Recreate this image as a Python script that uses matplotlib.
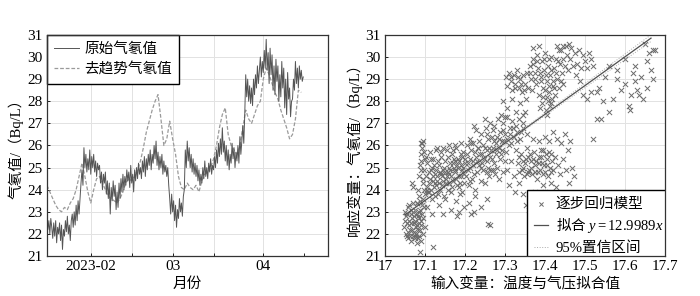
import numpy as np
import pandas as pd
import matplotlib
matplotlib.use('Agg')
import matplotlib.pyplot as plt
import matplotlib.dates as mdates
from matplotlib.ticker import FuncFormatter, MultipleLocator

plt.rcParams['font.family'] = ['Liberation Serif', 'Noto Sans CJK SC']
plt.rcParams['mathtext.fontset'] = 'custom'
plt.rcParams['mathtext.rm'] = 'Noto Sans CJK SC'
plt.rcParams['mathtext.it'] = 'Liberation Serif:italic'
plt.rcParams['mathtext.sf'] = 'Liberation Serif'
plt.rcParams['axes.unicode_minus'] = False

# raw radon, three readings per day from 2023-01-17
t_start = '2023-01-17'
radon_raw = [
    22.9, 22.2, 22.6, 22.0, 22.7, 22.3, 21.8, 22.5, 21.9, 22.6, 21.6, 22.3,
    22.0, 22.5, 21.7, 22.4, 21.3, 22.2, 21.9, 22.6, 22.1, 22.8, 22.0, 22.4,
    21.7, 22.6, 22.9, 22.3, 23.0, 22.4, 23.3, 22.6, 23.5, 22.9, 23.6, 24.3,
    24.9, 24.2, 25.9, 25.0, 25.6, 24.8, 25.4, 24.9, 25.8, 24.7, 25.5, 25.0,
    25.6, 24.8, 25.3, 24.6, 25.2, 24.9, 25.1, 24.3, 24.8, 24.0, 24.7, 24.3,
    24.8, 23.8, 24.4, 23.6, 24.3, 22.9, 24.1, 23.5, 24.4, 23.7, 24.2, 23.1,
    23.9, 23.2, 24.3, 23.6, 24.5, 23.9, 24.7, 24.0, 24.6, 24.2, 24.9, 24.4,
    24.8, 24.1, 25.1, 24.3, 24.7, 23.9, 24.9, 24.4, 25.0, 24.5, 25.2, 24.7,
    25.0, 24.5, 25.3, 24.8, 25.5, 24.6, 25.4, 24.9, 25.6, 25.1, 25.8, 24.9,
    25.6, 25.2, 26.0, 25.4, 26.2, 25.1, 25.7, 24.9, 25.5, 25.0, 25.6, 24.7,
    25.3, 24.8, 25.1, 24.6, 25.0, 24.2, 23.6, 22.9, 23.8, 23.0, 23.5, 22.6,
    23.3, 22.3, 23.1, 22.7, 23.6, 23.0, 23.4, 22.8, 23.7, 24.0, 25.8, 25.0,
    26.2, 25.3, 25.9, 25.0, 25.6, 24.8, 25.4, 24.7, 25.2, 24.6, 25.1, 24.4,
    24.9, 24.2, 24.7, 24.3, 25.0, 24.5, 25.3, 24.6, 25.0, 24.5, 25.2, 24.8,
    25.4, 24.7, 25.1, 24.9, 25.5, 25.0, 25.8, 25.2, 26.1, 25.5, 26.3, 25.6,
    26.8, 25.7, 26.2, 25.3, 26.0, 25.1, 25.8, 24.9, 25.6, 25.2, 26.1, 25.4,
    25.9, 25.0, 25.7, 25.3, 26.0, 25.2, 26.4, 25.6, 26.2, 26.9, 26.1, 27.4,
    29.2, 28.2, 29.0, 28.0, 28.7, 27.9, 28.6, 27.8, 29.0, 28.3, 29.2, 28.6,
    29.6, 28.8, 29.4, 30.0, 29.1, 29.8, 29.3, 30.3, 29.5, 30.8, 29.4, 30.2,
    28.8, 30.4, 29.2, 30.1, 28.5, 29.6, 28.3, 29.9, 28.9, 29.6, 28.0, 29.2,
    28.2, 29.8, 28.6, 29.5, 27.7, 29.0, 27.4, 29.3, 28.1, 28.6, 27.3, 28.0,
    28.1, 29.0, 28.5, 29.8, 28.8, 29.5, 28.6, 29.6, 29.0, 29.4, 28.9, 29.1,
]
# detrended radon, daily
radon_detrend = [
    24.2, 23.9, 23.6, 23.3, 23.1, 23.0, 23.2, 23.1, 23.4, 23.6,
    24.0, 24.6, 25.2, 24.6, 23.9, 23.4, 24.0, 24.5, 24.6, 24.3,
    24.0, 23.7, 23.6, 23.5, 23.4, 23.6, 23.9, 24.3, 24.5, 24.4,
    24.6, 24.9, 25.3, 25.9, 26.6, 27.1, 27.6, 28.0, 28.3, 27.2,
    26.0, 26.3, 27.1, 26.3, 25.6, 24.6, 24.1, 24.0, 24.3, 24.1,
    24.0, 24.2, 23.9, 24.4, 24.7, 24.8, 25.0, 25.4, 26.0, 26.8,
    27.4, 27.7, 26.5, 26.0, 25.8, 25.6, 26.0, 26.8, 27.6, 27.2,
    27.0, 27.4, 27.8, 28.0, 29.0, 29.5, 29.2, 28.8, 28.4, 28.1,
    27.6, 27.2, 26.8, 26.3, 26.5, 27.2, 28.5, 28.4,
]
month_labels = {2: '2023-02', 3: '03', 4: '04'}

# stepwise regression: (fitted input, radon)
scatter_xy = [
    (17.048, 22.3), (17.052, 22.8), (17.055, 22.5), (17.050, 23.0), (17.058, 22.1),
    (17.061, 22.6), (17.064, 22.9), (17.060, 23.3), (17.067, 22.2), (17.070, 21.9),
    (17.072, 22.5), (17.068, 22.7), (17.075, 23.1), (17.078, 22.0), (17.074, 21.8),
    (17.081, 22.4), (17.083, 22.8), (17.079, 23.4), (17.086, 21.9), (17.088, 22.2),
    (17.084, 23.0), (17.090, 22.6), (17.092, 23.3), (17.089, 21.7), (17.094, 22.0),
    (17.057, 23.2), (17.063, 21.9), (17.071, 23.4), (17.077, 22.3), (17.085, 22.5),
    (17.053, 22.0), (17.066, 23.1), (17.080, 21.6), (17.093, 22.9), (17.096, 23.6),
    (17.059, 22.4), (17.073, 22.8), (17.087, 23.5), (17.088, 21.2), (17.120, 21.4),
    (17.051, 22.6), (17.054, 21.9), (17.056, 22.9), (17.062, 22.2), (17.065, 22.5),
    (17.069, 23.0), (17.072, 22.1), (17.076, 22.6), (17.079, 22.9), (17.082, 22.2),
    (17.085, 22.7), (17.088, 23.1), (17.091, 22.4), (17.094, 22.7), (17.097, 23.2),
    (17.058, 21.8), (17.066, 21.7), (17.076, 21.9), (17.083, 21.8), (17.099, 22.3),
    (17.082, 24.0), (17.085, 24.6), (17.088, 25.1), (17.090, 25.6), (17.093, 26.1),
    (17.086, 23.7), (17.095, 24.3), (17.097, 24.9), (17.099, 25.4), (17.092, 25.9),
    (17.068, 24.3), (17.071, 24.1), (17.080, 23.4), (17.096, 26.2), (17.100, 23.8),
    (17.102, 24.6), (17.105, 25.2), (17.108, 23.9), (17.110, 24.3), (17.112, 25.7),
    (17.115, 24.9), (17.117, 23.6), (17.120, 25.4), (17.122, 24.1), (17.125, 24.7),
    (17.127, 25.8), (17.130, 24.4), (17.132, 23.8), (17.135, 25.1), (17.137, 24.8),
    (17.140, 25.5), (17.142, 24.2), (17.145, 24.9), (17.147, 23.7), (17.150, 25.3),
    (17.152, 24.5), (17.155, 25.8), (17.157, 24.0), (17.160, 24.7), (17.162, 25.2),
    (17.165, 23.9), (17.167, 25.6), (17.170, 24.4), (17.172, 25.0), (17.175, 24.8),
    (17.177, 25.9), (17.180, 24.2), (17.182, 25.4), (17.185, 24.6), (17.187, 23.8),
    (17.190, 25.1), (17.192, 24.9), (17.195, 25.7), (17.197, 24.3), (17.200, 25.2),
    (17.106, 24.0), (17.113, 24.5), (17.118, 25.0), (17.124, 23.7), (17.133, 25.3),
    (17.138, 24.0), (17.144, 25.9), (17.153, 24.3), (17.158, 25.5), (17.163, 24.9),
    (17.168, 24.1), (17.173, 25.4), (17.178, 24.5), (17.183, 25.0), (17.188, 24.3),
    (17.193, 25.5), (17.198, 24.7), (17.103, 25.5), (17.128, 24.9), (17.148, 25.0),
    (17.104, 24.1), (17.109, 24.8), (17.114, 24.0), (17.119, 24.4), (17.123, 25.1),
    (17.126, 24.3), (17.131, 24.6), (17.136, 24.3), (17.141, 24.7), (17.146, 24.4),
    (17.151, 24.8), (17.156, 24.6), (17.161, 25.0), (17.166, 24.6), (17.171, 25.2),
    (17.176, 24.9), (17.181, 25.1), (17.186, 25.3), (17.191, 24.6), (17.196, 25.0),
    (17.201, 25.4), (17.207, 24.9), (17.213, 25.4), (17.219, 25.1), (17.225, 25.7),
    (17.231, 25.3), (17.237, 25.6), (17.243, 25.2), (17.249, 25.9), (17.255, 25.3),
    (17.261, 25.9), (17.267, 25.4), (17.273, 26.2), (17.279, 25.8), (17.285, 26.3),
    (17.291, 25.6), (17.297, 26.2), (17.111, 23.9), (17.127, 24.2), (17.143, 24.6),
    (17.159, 24.3), (17.175, 25.3), (17.191, 25.6), (17.207, 25.2), (17.223, 24.7),
    (17.239, 25.0), (17.255, 24.8), (17.271, 24.9), (17.098, 24.0), (17.094, 24.5),
    (17.091, 24.9), (17.089, 25.3), (17.097, 25.7), (17.115, 25.4), (17.139, 25.7),
    (17.169, 25.8), (17.121, 24.6), (17.157, 24.8), (17.185, 24.1), (17.212, 24.4),
    (17.203, 24.6), (17.206, 25.6), (17.209, 24.2), (17.212, 25.0), (17.215, 25.8),
    (17.218, 24.5), (17.221, 25.3), (17.224, 24.0), (17.227, 25.5), (17.230, 24.8),
    (17.233, 25.9), (17.236, 25.1), (17.239, 24.4), (17.242, 25.6), (17.245, 24.9),
    (17.248, 25.4), (17.251, 24.3), (17.254, 25.8), (17.257, 25.0), (17.260, 24.6),
    (17.263, 25.5), (17.266, 24.9), (17.269, 25.9), (17.272, 25.2), (17.275, 24.7),
    (17.278, 25.6), (17.281, 25.0), (17.284, 24.5), (17.288, 25.4), (17.292, 25.8),
    (17.296, 24.8), (17.300, 25.3),
    (17.105, 23.2), (17.118, 22.9), (17.135, 23.3), (17.150, 23.6), (17.165, 23.1),
    (17.178, 23.5), (17.192, 23.9), (17.210, 23.4), (17.225, 23.7), (17.240, 23.2),
    (17.255, 23.6), (17.222, 23.0), (17.258, 22.45), (17.185, 23.0), (17.145, 22.9),
    (17.198, 23.2), (17.180, 22.8), (17.215, 22.9), (17.262, 22.4),
    (17.205, 26.0), (17.212, 26.3), (17.220, 26.1), (17.228, 26.7), (17.235, 26.2),
    (17.240, 26.5), (17.246, 26.0), (17.252, 26.8), (17.258, 26.3), (17.262, 27.0),
    (17.268, 26.4), (17.273, 26.9), (17.278, 26.1), (17.283, 27.2), (17.287, 26.6),
    (17.292, 26.2), (17.296, 27.0), (17.300, 26.5), (17.305, 27.3), (17.309, 26.0),
    (17.313, 26.8), (17.318, 27.1), (17.322, 26.4), (17.327, 26.9), (17.331, 26.2),
    (17.336, 27.2), (17.340, 26.6), (17.345, 27.0), (17.250, 27.2), (17.232, 25.9),
    (17.265, 25.8), (17.285, 25.9), (17.302, 25.7), (17.315, 26.1), (17.190, 26.1),
    (17.175, 26.0), (17.160, 26.0), (17.223, 26.9), (17.290, 27.4), (17.350, 27.5),
    (17.090, 26.1), (17.130, 25.9), (17.215, 26.1),
    (17.255, 26.5), (17.270, 26.7), (17.280, 26.4), (17.295, 26.7), (17.305, 26.3),
    (17.312, 26.5), (17.320, 26.8), (17.330, 26.6), (17.338, 26.3), (17.344, 26.8),
    (17.302, 29.1), (17.306, 28.7), (17.310, 29.3), (17.314, 28.9), (17.318, 28.5),
    (17.322, 29.2), (17.326, 28.8), (17.330, 29.4), (17.334, 28.6), (17.338, 29.0),
    (17.342, 28.4), (17.346, 29.2), (17.350, 28.8), (17.354, 29.3), (17.358, 28.6),
    (17.316, 29.1), (17.324, 28.6), (17.332, 29.1), (17.340, 28.8), (17.348, 28.5),
    (17.295, 28.0), (17.305, 27.7), (17.318, 28.1), (17.328, 27.5), (17.338, 27.9),
    (17.345, 27.4), (17.352, 28.1), (17.300, 27.3),
    (17.362, 29.6), (17.365, 29.0), (17.368, 28.5), (17.371, 29.9), (17.374, 29.3),
    (17.377, 28.8), (17.380, 30.1), (17.383, 29.5), (17.386, 28.3), (17.389, 29.1),
    (17.392, 29.8), (17.395, 28.6), (17.398, 29.4), (17.401, 30.2), (17.404, 28.9),
    (17.407, 29.6), (17.410, 28.4), (17.413, 29.2), (17.416, 30.0), (17.419, 28.7),
    (17.422, 29.5), (17.425, 28.3), (17.428, 29.9), (17.431, 29.0), (17.434, 28.6),
    (17.437, 29.7), (17.440, 30.3), (17.443, 29.3), (17.446, 28.8), (17.449, 29.6),
    (17.363, 29.3), (17.369, 29.7), (17.375, 29.0), (17.381, 29.8), (17.387, 29.3),
    (17.391, 28.9), (17.397, 29.9), (17.403, 29.2), (17.409, 29.9), (17.415, 29.4),
    (17.421, 28.9), (17.427, 29.3), (17.433, 29.8), (17.439, 28.9), (17.444, 29.9),
    (17.411, 28.7), (17.399, 28.5), (17.423, 28.6), (17.406, 28.2), (17.416, 27.9),
    (17.370, 30.4), (17.385, 30.5), (17.393, 27.9), (17.402, 27.6), (17.408, 28.0),
    (17.412, 27.8), (17.418, 28.1), (17.405, 27.4), (17.396, 28.2), (17.388, 27.7),
    (17.452, 30.5), (17.456, 30.1), (17.460, 30.6), (17.463, 29.9), (17.466, 30.4),
    (17.470, 29.6), (17.458, 29.4), (17.445, 30.5), (17.435, 30.3), (17.430, 30.5),
    (17.475, 30.2), (17.480, 29.7), (17.485, 30.3), (17.490, 29.5), (17.495, 30.1),
    (17.500, 29.8), (17.505, 29.5), (17.510, 30.2), (17.515, 29.9), (17.520, 29.6),
    (17.495, 28.3), (17.505, 28.1), (17.515, 28.4), (17.478, 29.2), (17.488, 28.9),
    (17.530, 28.4), (17.535, 28.6), (17.570, 28.1), (17.610, 27.8), (17.612, 27.6),
    (17.645, 28.1), (17.655, 29.8), (17.660, 30.2), (17.650, 30.6), (17.580, 29.0),
    (17.600, 28.8), (17.620, 29.3), (17.625, 28.9), (17.630, 28.5), (17.640, 29.1),
    (17.635, 28.3), (17.580, 29.4), (17.530, 27.2), (17.540, 27.2), (17.560, 27.5),
    (17.520, 26.3), (17.550, 29.1), (17.590, 28.5), (17.665, 29.4), (17.670, 30.3),
    (17.675, 30.3), (17.625, 29.6), (17.600, 29.9), (17.560, 29.6), (17.615, 28.3),
    (17.655, 28.6), (17.670, 29.0), (17.545, 28.0),
    (17.332, 25.2), (17.336, 24.8), (17.340, 25.6), (17.344, 25.0), (17.348, 24.6),
    (17.352, 25.4), (17.356, 25.9), (17.360, 24.9), (17.364, 25.3), (17.368, 24.7),
    (17.372, 25.7), (17.376, 25.1), (17.380, 24.5), (17.384, 25.5), (17.388, 24.9),
    (17.392, 25.2), (17.396, 25.8), (17.400, 24.8), (17.404, 25.4), (17.408, 24.6),
    (17.412, 25.0), (17.416, 25.6), (17.420, 24.9), (17.358, 25.5), (17.374, 24.8),
    (17.390, 25.5),
    (17.334, 25.5), (17.342, 24.9), (17.350, 25.2), (17.357, 24.8), (17.362, 25.6),
    (17.366, 25.0), (17.370, 25.4), (17.378, 25.3), (17.382, 24.8), (17.386, 25.2),
    (17.394, 24.7), (17.398, 25.1), (17.402, 25.6), (17.406, 25.1), (17.414, 24.8),
    (17.418, 25.3), (17.346, 25.3), (17.354, 24.7), (17.389, 25.8), (17.410, 25.7),
    (17.305, 24.9), (17.315, 25.3), (17.322, 24.6), (17.328, 25.8), (17.425, 25.5),
    (17.432, 25.1), (17.438, 24.7), (17.445, 25.4), (17.452, 24.9), (17.458, 25.8),
    (17.463, 26.2), (17.468, 25.0), (17.472, 24.6), (17.440, 26.1), (17.450, 26.5),
    (17.430, 26.3), (17.420, 26.6), (17.410, 26.2), (17.400, 26.4), (17.385, 26.2),
    (17.370, 26.3), (17.355, 26.5), (17.345, 23.8), (17.352, 23.3), (17.360, 23.1),
    (17.368, 23.6), (17.378, 23.2), (17.385, 22.9), (17.392, 23.4), (17.400, 23.9),
    (17.310, 24.2), (17.325, 23.9), (17.335, 24.3), (17.395, 24.2), (17.415, 24.3),
    (17.428, 24.1), (17.375, 23.9), (17.460, 24.3),
]
fit_slope = 12.9989
fit_intercept = -198.77
fit_range = [17.05, 17.665]
ci_x = [17.05, 17.36, 17.665]
ci_half = [0.15, 0.05, 0.15]

fig = plt.figure(figsize=(7, 2.96), dpi=100)
ax1 = fig.add_axes([0.067, 0.135, 0.401, 0.747])
ax2 = fig.add_axes([0.55, 0.135, 0.4, 0.747])

# left: time series
t_raw = pd.date_range(t_start, periods=len(radon_raw), freq='8h')
t_det = pd.date_range(t_start, periods=len(radon_detrend), freq='D')
ax1.plot(t_det, radon_detrend, color='#9a9a9a', lw=0.9, ls=(0, (3, 1.5)),
         label='去趋势气氡值', zorder=2)
ax1.plot(t_raw, radon_raw, color='#555555', lw=0.7, label='原始气氡值', zorder=3)
ax1.set_xlim(pd.Timestamp('2023-01-17'), pd.Timestamp('2023-04-23'))
ax1.xaxis.set_major_locator(mdates.MonthLocator())
ax1.xaxis.set_minor_locator(mdates.DayLocator(bymonthday=15))
ax1.xaxis.set_major_formatter(FuncFormatter(
    lambda v, p: month_labels.get(mdates.num2date(v).month, '')))
ax1.set_xlabel('月份', fontsize=10.5, labelpad=3)
ax1.set_ylabel('气氡值/（Bq/L）', fontsize=10.5, labelpad=3)
h, l = ax1.get_legend_handles_labels()
ax1.legend(h[::-1], l[::-1], loc='upper left', fancybox=False, edgecolor='black',
           framealpha=1, borderaxespad=0, handlelength=1.7, fontsize=10.5,
           borderpad=0.5, labelspacing=0.45, handletextpad=0.35)

# right: scatter + fit
sx, sy = zip(*scatter_xy)
ax2.scatter(sx, sy, marker='x', s=14, c='#6a6a6a', linewidths=0.7,
            label='逐步回归模型', zorder=2)
fx = np.array(fit_range)
ax2.plot(fx, fit_slope * fx + fit_intercept, color='#505050', lw=0.9,
         label=r'$\mathrm{拟合}\ y\mathsf{=12.9989}x$', zorder=3)
cx = np.array(ci_x)
cy = fit_slope * cx + fit_intercept
ax2.plot(cx, cy + np.array(ci_half), color='#aaaaaa', lw=0.7, ls=':',
         label='95%置信区间', zorder=3)
ax2.plot(cx, cy - np.array(ci_half), color='#aaaaaa', lw=0.7, ls=':', zorder=3)
ax2.set_xlim(17, 17.7)
ax2.xaxis.set_major_locator(MultipleLocator(0.1))
ax2.xaxis.set_major_formatter(FuncFormatter(lambda v, p: f'{v:g}'))
ax2.set_xlabel('输入变量：温度与气压拟合值', fontsize=10.5, labelpad=3)
ax2.set_ylabel('响应变量：气氡值/（Bq/L）', fontsize=10.5, labelpad=3)
leg2 = ax2.legend(loc='lower right', bbox_to_anchor=(1.02, -0.028), fancybox=False,
                  edgecolor='black', framealpha=1, borderaxespad=0,
                  handlelength=1.0, fontsize=10.5, markerscale=0.8,
                  borderpad=0.5, labelspacing=0.4, handletextpad=0.5)
leg2.get_frame().set_clip_box(ax2.bbox)
leg2.get_frame().set_clip_on(True)

for ax in (ax1, ax2):
    ax.set_ylim(21, 31)
    ax.yaxis.set_major_locator(MultipleLocator(1))
    ax.tick_params(which='both', direction='in', length=2.5, width=0.6,
                   labelsize=11, pad=3)
    ax.grid(True, color='#e2e2e2', lw=0.7, zorder=0)
    ax.set_axisbelow(True)
    for s in ax.spines.values():
        s.set_color('#333333')
        s.set_linewidth(0.9)
        s.set_zorder(6)

ax1.grid(True, which='minor', axis='x', color='#e2e2e2', lw=0.7)
ax1.xaxis.get_minor_ticks()[-1].gridline.set_visible(False)
for tk in ax1.xaxis.get_major_ticks():
    if mdates.num2date(tk.get_loc()).month == 4:
        tk.gridline.set_color('#9a9a9a')

fig.savefig('out.png', dpi=100)
